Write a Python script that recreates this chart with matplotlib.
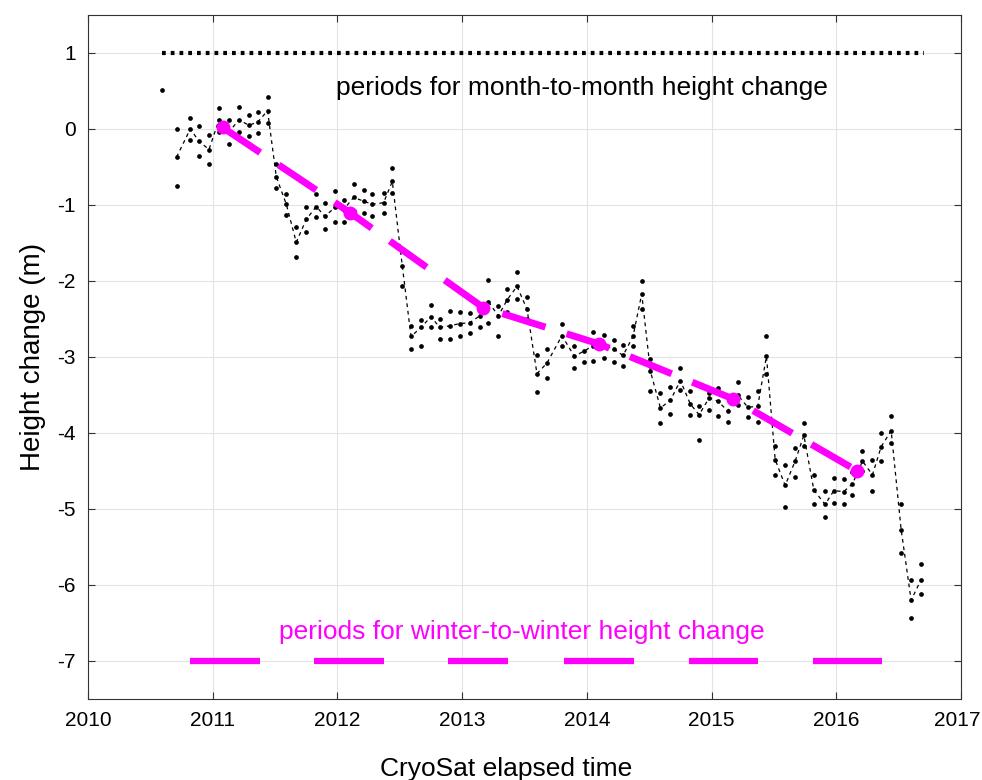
import numpy as np
import matplotlib
matplotlib.use("Agg")
import matplotlib.pyplot as plt
import matplotlib.transforms as mtransforms

plt.rcParams['font.family'] = ['Liberation Sans', 'DejaVu Sans']
plt.rcParams['axes.unicode_minus'] = False

# CryoSat sampling times (decimal year)
t = [2010.59, 2010.71, 2010.82, 2010.89, 2010.97, 2011.05, 2011.13, 2011.21,
     2011.29, 2011.36, 2011.44, 2011.51, 2011.59, 2011.67, 2011.75, 2011.83,
     2011.90, 2011.98, 2012.05, 2012.13, 2012.21, 2012.28, 2012.37, 2012.44,
     2012.52, 2012.59, 2012.67, 2012.75, 2012.82, 2012.90, 2012.98, 2013.06,
     2013.14, 2013.21, 2013.29, 2013.36, 2013.44, 2013.52, 2013.60, 2013.68,
     2013.80, 2013.90, 2013.98, 2014.05, 2014.14, 2014.22, 2014.29, 2014.37,
     2014.44, 2014.51, 2014.59, 2014.67, 2014.75, 2014.83, 2014.90, 2014.98,
     2015.05, 2015.13, 2015.21, 2015.29, 2015.37, 2015.44, 2015.51, 2015.59,
     2015.67, 2015.74, 2015.82, 2015.91, 2015.98, 2016.06, 2016.13, 2016.21,
     2016.29, 2016.36, 2016.44, 2016.52, 2016.60, 2016.68]

# three height estimates per epoch (m)
h_upper = [0.51, 0.00, 0.14, 0.04, -0.08, 0.27, 0.12, 0.29,
           0.18, 0.22, 0.42, -0.46, -0.86, -1.29, -1.03, -0.86,
           -0.97, -0.82, -0.93, -0.72, -0.80, -0.86, -0.84, -0.51,
           -1.58, -2.59, -2.51, -2.31, -2.50, -2.39, -2.41, -2.42,
           -2.30, -1.99, -2.33, -2.10, -1.88, -2.21, -2.98, -2.89,
           -2.56, -2.86, -2.76, -2.67, -2.71, -2.77, -2.84, -2.59,
           -2.00, -3.02, -3.48, -3.39, -3.15, -3.45, -3.65, -3.48,
           -3.41, -3.53, -3.33, -3.52, -3.45, -2.73, -4.17, -4.42,
           -4.20, -3.87, -4.55, -4.76, -4.59, -4.61, -4.51, -4.24,
           -4.35, -4.00, -3.78, -4.93, -5.93, -5.73]
h_mid = [np.nan, -0.37, 0.00, -0.16, -0.27, 0.12, -0.04, 0.12,
         0.05, 0.09, 0.24, -0.63, -0.99, -1.49, -1.19, -1.02,
         -1.15, -1.03, -1.06, -0.90, -0.95, -0.99, -0.97, -0.69,
         -1.80, -2.73, -2.61, -2.47, -2.61, -2.59, -2.56, -2.55,
         -2.46, -2.27, -2.46, -2.25, -2.07, -2.37, -3.22, -3.08,
         -2.72, -2.99, -2.92, -2.85, -2.85, -2.90, -2.98, -2.73,
         -2.17, -3.19, -3.67, -3.57, -3.31, -3.62, -3.76, -3.54,
         -3.58, -3.71, -3.50, -3.66, -3.65, -2.99, -4.35, -4.69,
         -4.37, -4.03, -4.75, -4.94, -4.76, -4.77, -4.67, -4.37,
         -4.55, -4.18, -3.97, -5.27, -6.20, -5.93]
h_lower = [np.nan, -0.75, -0.14, -0.35, -0.46, -0.04, -0.20, -0.04,
           -0.09, -0.05, 0.08, -0.77, -1.13, -1.69, -1.35, -1.16,
           -1.32, -1.22, -1.22, -1.08, -1.10, -1.15, -1.10, -0.84,
           -2.07, -2.89, -2.85, -2.61, -2.76, -2.76, -2.72, -2.69,
           -2.61, -2.55, -2.72, -2.41, -2.24, -2.50, -3.46, -3.28,
           -2.85, -3.14, -3.06, -3.05, -3.01, -3.06, -3.12, -2.86,
           -2.37, -3.45, -3.87, -3.75, -3.44, -3.76, -4.09, -3.70,
           -3.78, -3.86, -3.63, -3.79, -3.86, -3.22, -4.55, -4.97,
           -4.58, -4.17, -4.94, -5.10, -4.92, -4.94, -4.81, -4.50,
           -4.76, -4.37, -4.13, -5.58, -6.43, -6.12]

# winter-to-winter means
t_winter = [2011.08, 2012.10, 2013.17, 2014.10, 2015.17, 2016.17]
h_winter = [0.02, -1.10, -2.35, -2.83, -3.55, -4.50]

# winter periods (start, end)
w_start = [2010.82, 2011.81, 2012.89, 2013.82, 2014.82, 2015.81]
w_end = [2011.38, 2012.37, 2013.37, 2014.38, 2015.37, 2016.37]

# month-to-month period span
m_span = [2010.59, 2016.70]

fig = plt.figure(figsize=(9.82, 7.8), dpi=100)
ax = fig.add_axes([88/982, 1 - 699/780, (961 - 88)/982, (699 - 15)/780])

ax.plot(m_span, [1, 1], color='black', lw=3, dashes=(0.9, 1.2),
        solid_capstyle='butt')

ax.plot(t, h_mid, color='black', lw=0.9, dashes=(3, 3))
for h in (h_upper, h_mid, h_lower):
    ax.plot(t, h, 'o', color='black', ms=3.4, mew=0)

ax.plot(t_winter, h_winter, color='#ff00ff', lw=5, dashes=(6.5, 3.2),
        marker='o', ms=10, mew=0)

for s, e in zip(w_start, w_end):
    ax.plot([s, e], [-7, -7], color='#ff00ff', lw=4.5, solid_capstyle='butt')

ax.text(2011.99, 0.54, 'periods for month-to-month height change',
        fontsize=19, color='black', va='center')
ax.text(2011.53, -6.62, 'periods for winter-to-winter height change',
        fontsize=19, color='#ff00ff', va='center')

ax.set_xlim(2010, 2017)
ax.set_ylim(-7.5, 1.5)
ax.set_xticks(range(2010, 2018))
ax.set_yticks(range(-7, 2))
ax.grid(True, color='#e3e3e3', lw=0.8)
ax.set_axisbelow(True)
ax.tick_params(direction='in', length=5, labelsize=15, color='#333333',
               top=True, right=True, pad=9)
for sp in ax.spines.values():
    sp.set_color('#333333')
    sp.set_linewidth(0.8)
ax.set_xlabel('CryoSat elapsed time', fontsize=19)
ax.xaxis.set_label_coords(0.479, -0.085)
ax.set_ylabel('Height change (m)', fontsize=20, labelpad=8)

# keep the last year label inside the figure
last = ax.get_xticklabels()[-1]
last.set_transform(last.get_transform() +
                   mtransforms.ScaledTranslation(-4/100, 0, fig.dpi_scale_trans))

fig.savefig('out.png', dpi=100)
